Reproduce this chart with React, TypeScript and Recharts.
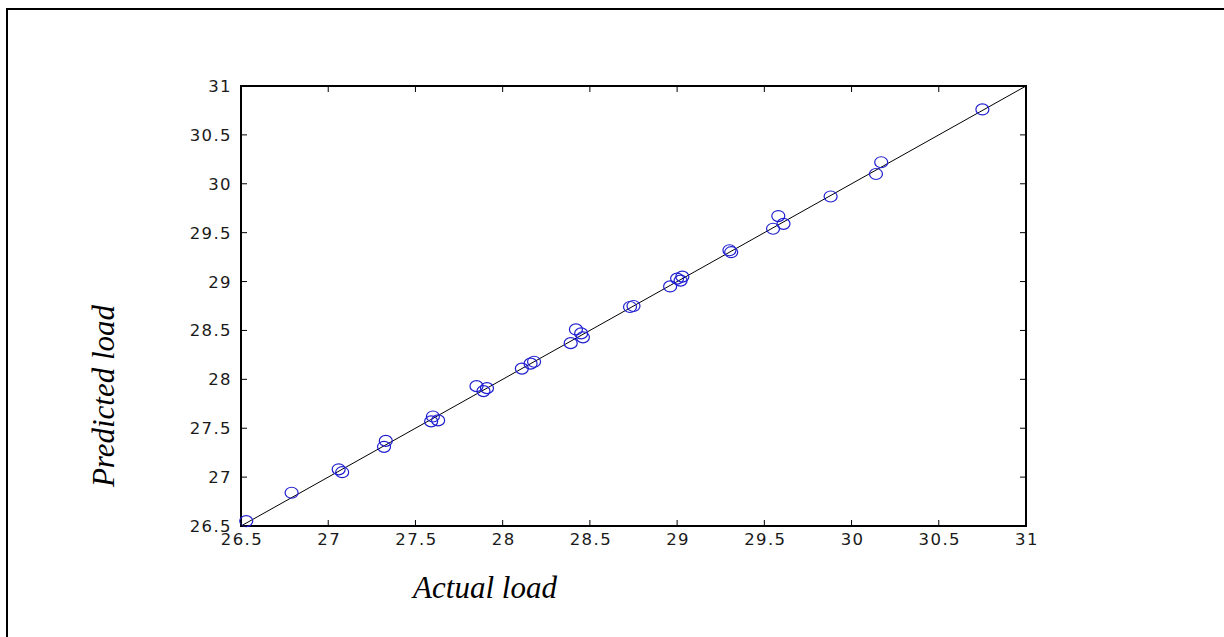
import { ReferenceArea, ReferenceLine, Scatter, ScatterChart, XAxis, YAxis } from "recharts";

const actualLoad = [
    26.53, 26.79, 27.06, 27.08, 27.33, 27.32, 27.6, 27.59, 27.63, 27.85, 27.89, 27.91,
    28.11, 28.16, 28.18, 28.39, 28.42, 28.45, 28.46, 28.73, 28.75, 28.96, 29.0, 29.03,
    29.02, 29.3, 29.31, 29.55, 29.58, 29.61, 29.88, 30.14, 30.17, 30.75,
];
const predictedLoad = [
    26.55, 26.84, 27.08, 27.05, 27.37, 27.31, 27.62, 27.57, 27.58, 27.93, 27.88, 27.91,
    28.11, 28.16, 28.18, 28.37, 28.51, 28.47, 28.43, 28.74, 28.75, 28.95, 29.03, 29.05,
    29.01, 29.32, 29.3, 29.54, 29.67, 29.59, 29.87, 30.1, 30.22, 30.76,
];
const ticks = [26.5, 27, 27.5, 28, 28.5, 29, 29.5, 30, 30.5, 31];
const axisMin = 26.5;
const axisMax = 31;

const points = actualLoad.map((x, i) => ({ x, y: predictedLoad[i] }));

const PLOT = { left: 241, top: 86, right: 1026, bottom: 526 };
const tickFont = { fontFamily: "DejaVu Sans", fontSize: 16.5, letterSpacing: 1.4, fill: "#1a1a1a" };
const titleFont = { fontFamily: "Liberation Serif", fontStyle: "italic", fontSize: 31, fill: "#000" };

function XTick({ x, payload }: any) {
    return (
        <g>
            <line x1={x} x2={x} y1={PLOT.bottom} y2={PLOT.bottom - 6} stroke="#000" />
            <line x1={x} x2={x} y1={PLOT.top} y2={PLOT.top + 6} stroke="#000" />
            <text x={x + 1} y={PLOT.bottom + 19} textAnchor="middle" {...tickFont}>
                {payload.value}
            </text>
        </g>
    );
}

function YTick({ y, payload }: any) {
    return (
        <g>
            <line x1={PLOT.left} x2={PLOT.left + 6} y1={y} y2={y} stroke="#000" />
            <line x1={PLOT.right} x2={PLOT.right - 6} y1={y} y2={y} stroke="#000" />
            <text x={PLOT.left - 9} y={y + 6} textAnchor="end" {...tickFont}>
                {payload.value}
            </text>
        </g>
    );
}

function Ring(props: any) {
    return <ellipse cx={props.cx} cy={props.cy} rx={6.5} ry={5.5} fill="none" stroke="#1f1fd0" strokeWidth={1.2} />;
}

export default function App() {
    return (
        <div style={{ position: "absolute", left: 0, top: 0, width: 1224, height: 637, overflow: "hidden", background: "#fff" }}>
            <div
                style={{
                    position: "absolute",
                    left: 6,
                    top: 8,
                    width: 1300,
                    height: 700,
                    borderTop: "2px solid #000",
                    borderLeft: "2px solid #000",
                }}
            />
            <ScatterChart
                width={1224}
                height={637}
                margin={{ top: PLOT.top, right: 1224 - PLOT.right, bottom: 637 - PLOT.bottom - 30, left: PLOT.left - 60 }}
                style={{ position: "absolute", left: 0, top: 0 }}
            >
                <XAxis
                    type="number"
                    dataKey="x"
                    domain={[axisMin, axisMax]}
                    ticks={ticks}
                    interval={0}
                    height={30}
                    axisLine={false}
                    tickLine={false}
                    tick={<XTick />}
                    label={{
                        content: () => (
                            <text x={485} y={598} textAnchor="middle" {...titleFont}>
                                Actual load
                            </text>
                        ),
                    }}
                />
                <YAxis
                    type="number"
                    dataKey="y"
                    domain={[axisMin, axisMax]}
                    ticks={ticks}
                    interval={0}
                    width={60}
                    axisLine={false}
                    tickLine={false}
                    tick={<YTick />}
                    label={{
                        content: () => (
                            <text x={114} y={396} textAnchor="middle" transform="rotate(-90 114 396)" {...titleFont}>
                                Predicted load
                            </text>
                        ),
                    }}
                />
                <ReferenceLine
                    segment={[
                        { x: axisMin, y: axisMin },
                        { x: axisMax, y: axisMax },
                    ]}
                    stroke="#000"
                    strokeWidth={1}
                />
                <ReferenceArea x1={axisMin} x2={axisMax} y1={axisMin} y2={axisMax} fill="none" stroke="#000" strokeWidth={2} />
                <Scatter data={points} shape={<Ring />} isAnimationActive={false} />
            </ScatterChart>
        </div>
    );
}
